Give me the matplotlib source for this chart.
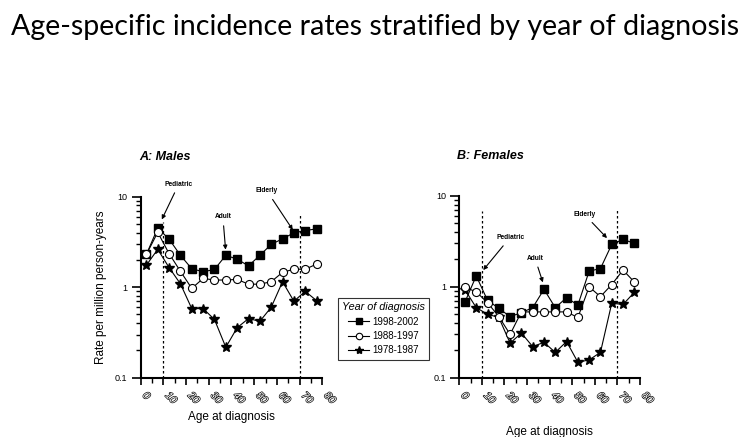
import matplotlib
matplotlib.use('Agg')
import numpy as np
import matplotlib.pyplot as plt
import matplotlib.patheffects as pe
from matplotlib.ticker import LogLocator, NullFormatter, FixedLocator

# Age groups (midpoints of 5-year bands)
ages = [2.5, 7.5, 12.5, 17.5, 22.5, 27.5, 32.5, 37.5,
        42.5, 47.5, 52.5, 57.5, 62.5, 67.5, 72.5, 77.5]

# Rate per million person-years
males_1998_2002 = [2.3, 4.5, 3.4, 2.25, 1.6, 1.48, 1.57, 2.25, 2.04, 1.72, 2.25, 2.97, 3.43, 3.98, 4.23, 4.41]
males_1988_1997 = [2.3, 4.04, 2.35, 1.5, 0.97, 1.25, 1.2, 1.2, 1.22, 1.08, 1.08, 1.15, 1.46, 1.58, 1.58, 1.8]
males_1978_1987 = [1.75, 2.62, 1.65, 1.09, 0.58, 0.58, 0.44, 0.217, 0.357, 0.45, 0.42, 0.6, 1.15, 0.70, 0.90, 0.71]

females_1998_2002 = [0.68, 1.32, 0.71, 0.58, 0.47, 0.52, 0.59, 0.94, 0.59, 0.76, 0.63, 1.49, 1.59, 2.93, 3.33, 3.01]
females_1988_1997 = [0.99, 0.88, 0.67, 0.47, 0.30, 0.53, 0.53, 0.53, 0.53, 0.53, 0.46, 1.0, 0.78, 1.06, 1.53, 1.13]
females_1978_1987 = [0.93, 0.59, 0.50, 0.46, 0.24, 0.31, 0.22, 0.245, 0.19, 0.25, 0.148, 0.157, 0.19, 0.66, 0.64, 0.87]

period_labels = ['1998-2002', '1988-1997', '1978-1987']
cutoff_ages = [10, 70]

# annotation labels: (text, text position, arrow tip) in data coords
males_notes = [('Pediatric', (16.8, 13.8), (9.3, 5.6)),
               ('Adult', (36.2, 6.0), (37.4, 2.6)),
               ('Elderly', (55.6, 11.6), (67.0, 4.3))]
females_notes = [('Pediatric', (22.5, 3.5), (10.6, 1.53)),
                 ('Adult', (33.5, 2.07), (37.0, 1.12)),
                 ('Elderly', (55.3, 6.3), (65.4, 3.44))]

plt.rcParams['font.family'] = ['Liberation Sans', 'DejaVu Sans']

fig = plt.figure(figsize=(7.5, 4.37), dpi=100)

fig.text(0.5, 0.938, 'Age-specific incidence rates stratified by year of diagnosis',
         ha='center', va='center', fontsize=20.6, family='Lato')

ax_m = fig.add_axes([0.1876, 0.1357, 0.2421, 0.4142])
ax_f = fig.add_axes([0.6124, 0.1357, 0.2409, 0.4158])

styles = [dict(marker='s', ms=5.5, mfc='black', mec='black'),
          dict(marker='o', ms=5.8, mfc='white', mec='black', mew=0.8),
          dict(marker='*', ms=7.5, mfc='black', mec='black')]
zorders = [3, 5, 4]

def draw_panel(ax, series, notes, title, vline_tops):
    handles = []
    for vals, st, z, lab in zip(series, styles, zorders, period_labels):
        h, = ax.plot(ages, vals, color='black', lw=0.8, zorder=z, label=lab, **st)
        handles.append(h)
    for xv, top in zip(cutoff_ages, vline_tops):
        ax.axvline(xv, ymin=0, ymax=top, color='black', lw=0.9, ls=(0, (2, 2)), zorder=2)

    ax.set_yscale('log')
    ax.set_ylim(0.1, 10)
    ax.set_xlim(0, 80)
    for s in ['top', 'right']:
        ax.spines[s].set_visible(False)
    for s in ['left', 'bottom']:
        ax.spines[s].set_linewidth(1.5)

    ax.yaxis.set_major_locator(FixedLocator([0.1, 1, 10]))
    ax.yaxis.set_minor_locator(LogLocator(base=10, subs=np.arange(2, 10)))
    ax.yaxis.set_minor_formatter(NullFormatter())
    ax.set_yticklabels(['0.1', '1', '10'])
    ax.tick_params(axis='y', which='major', length=6.5, width=1.2, labelsize=6.5, pad=3)
    ax.tick_params(axis='y', which='minor', length=3.6, width=1.0)

    ax.set_xticks(range(0, 81, 10))
    ax.set_xticks(range(5, 80, 10), minor=True)
    ax.tick_params(axis='x', which='major', length=5, width=1.2, pad=4)
    ax.tick_params(axis='x', which='minor', length=3.4, width=1.0)
    for t in ax.get_xticklabels():
        t.set_rotation(-45)
        t.set_ha('left')
        t.set_va('top')
        t.set_fontsize(7.5)
        t.set_fontstyle('italic')
        t.set_color('white')
        t.set_path_effects([pe.withStroke(linewidth=1.0, foreground='#111111')])

    for txt, xyt, xy in notes:
        ax.annotate(txt, xy=xy, xytext=xyt, ha='center', va='center',
                    fontsize=4.8, fontweight='bold', annotation_clip=False,
                    arrowprops=dict(arrowstyle='-|>', color='black', lw=0.8,
                                    mutation_scale=6, shrinkA=2, shrinkB=0))

    ax.text(-0.01, 1.22, title, transform=ax.transAxes, fontsize=9,
            fontweight='bold', fontstyle='italic', ha='left', va='center')
    return handles

handles = draw_panel(ax_m, [males_1998_2002, males_1988_1997, males_1978_1987],
                     males_notes, 'A: Males', [0.86, 0.9])
draw_panel(ax_f, [females_1998_2002, females_1988_1997, females_1978_1987],
           females_notes, 'B: Females', [0.92, 0.93])

ax_m.set_ylabel('Rate per million person-years', fontsize=8.5, labelpad=6)
ax_m.set_xlabel('Age at diagnosis', fontsize=8.5)
ax_m.xaxis.set_label_coords(0.5, -0.185)
ax_f.set_xlabel('Age at diagnosis', fontsize=8.5)
ax_f.xaxis.set_label_coords(0.5, -0.265)

leg = fig.legend(handles=handles, loc='upper left', bbox_to_anchor=(0.4436, 0.3295),
                 title='Year of diagnosis', fontsize=7, title_fontsize=7.8,
                 frameon=True, fancybox=False, handlelength=2.2, handletextpad=0.3,
                 borderpad=0.45, labelspacing=0.45, markerscale=0.8)
leg.get_title().set_fontstyle('italic')
leg.get_frame().set_edgecolor('black')
leg.get_frame().set_linewidth(0.8)

fig.savefig('out.png', dpi=100)
